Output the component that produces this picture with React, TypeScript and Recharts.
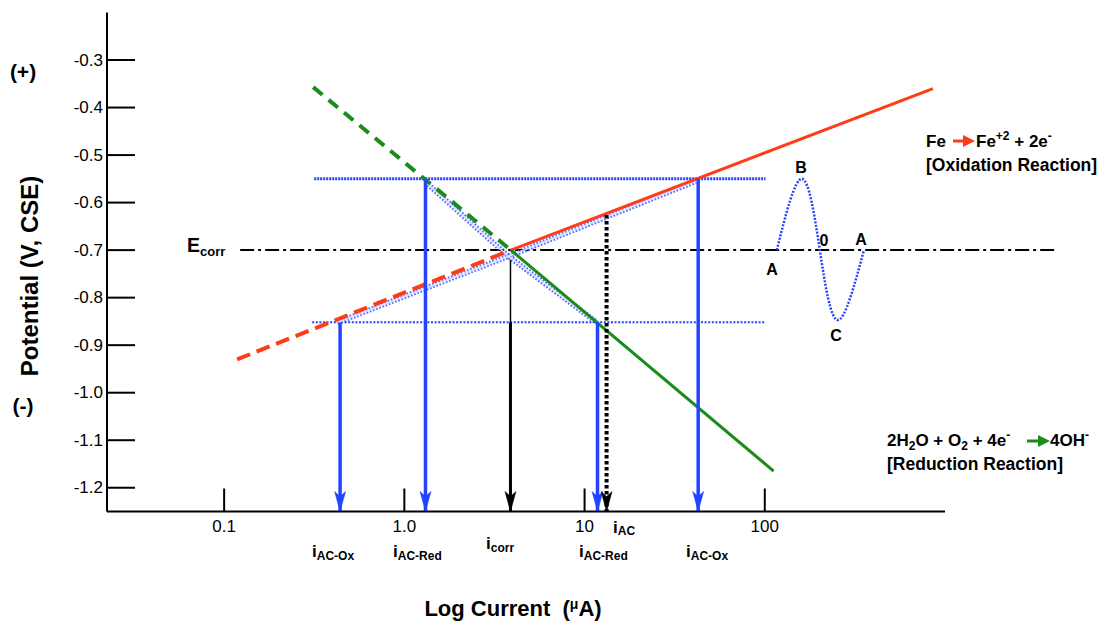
import React from 'react';
import { LineChart, Line, XAxis, YAxis, ReferenceLine } from 'recharts';

const FONT = '"Liberation Sans", Arial, Helvetica, sans-serif';

// axis ticks
const xTicks = [0.1, 1, 10, 100];
const xTickLabels = ['0.1', '1.0', '10', '100'];
const yTicks = [-1.2, -1.1, -1.0, -0.9, -0.8, -0.7, -0.6, -0.5, -0.4, -0.3];
const xDomain = [0.02239, 1000];
const yDomain = [-1.25, -0.2];

// corrosion potential
const ECORR = -0.7;
const ecorrSpan = [0.1227, 4034];

// Tafel lines (current uA, potential V)
const oxidationDashed = [{ x: 0.118, y: -0.93 }, { x: 3.9, y: -0.7 }];
const oxidationSolid = [{ x: 3.9, y: -0.7 }, { x: 857, y: -0.36 }];
const reductionDashed = [{ x: 0.312, y: -0.357 }, { x: 3.9, y: -0.7 }];
const reductionSolid = [{ x: 3.9, y: -0.7 }, { x: 112, y: -1.165 }];

// AC potential limits
const acHigh = [{ x: 0.316, y: -0.55 }, { x: 101, y: -0.55 }];
const acLow = [{ x: 0.308, y: -0.852 }, { x: 101, y: -0.852 }];

// AC polarized curves
const acOxCurve = [{ x: 0.425, y: -0.852 }, { x: 3.78, y: -0.713 }, { x: 41.4, y: -0.555 }];
const acRedCurve = [{ x: 1.31, y: -0.557 }, { x: 3.78, y: -0.713 }, { x: 11.67, y: -0.852 }];

// AC wave sketch points A, B, 0, C, A
const acWave = [
  { x: 116.6, y: -0.7 },
  { x: 160.5, y: -0.55 },
  { x: 202, y: -0.7 },
  { x: 254.5, y: -0.847 },
  { x: 354.8, y: -0.7 },
];

// arrows down to the axis
const AXIS_BOTTOM = -1.25;
const blueArrowX = [0.44, 1.31, 11.8, 42.7];
const blueArrowFrom = [-0.852, -0.55, -0.852, -0.55];
const icorrX = 3.88;
const icorrFrom = [-0.72, -0.852];
const iacX = 13.25;
const iacFrom = -0.626;

const BLUE = '#2443ff';
const RED = '#ff3c17';
const GREEN = '#1b8c1b';

const YTick = (props: any) => {
  const { x, y, payload } = props;
  return (
    <g>
      <line x1={x} y1={y} x2={x + 28} y2={y} stroke="#000" strokeWidth={2} />
      <text x={x - 4} y={y} textAnchor="end" dominantBaseline="central" fontSize={17} fontFamily={FONT} fill="#000">
        {Number(payload.value).toFixed(1)}
      </text>
    </g>
  );
};

const XTick = (props: any) => {
  const { x, y, payload } = props;
  const i = xTicks.indexOf(payload.value);
  return (
    <g>
      <line x1={x} y1={y} x2={x} y2={y - 23} stroke="#000" strokeWidth={2} />
      <text x={x} y={y + 20} textAnchor="middle" fontSize={17} fontFamily={FONT} fill="#000">
        {i >= 0 ? xTickLabels[i] : String(payload.value)}
      </text>
    </g>
  );
};

const arrowDot = (color: string) => (props: any) => {
  const { cx, cy, index } = props;
  if (index !== 1 || cx == null || cy == null) return <g key={`d${index}`} />;
  return (
    <path
      key={`d${index}`}
      d={`M${cx},${cy} L${cx - 5.5},${cy - 20} L${cx},${cy - 15} L${cx + 5.5},${cy - 20} Z`}
      fill={color}
      stroke={color}
      strokeWidth={0.5}
    />
  );
};

const seg = (x: number, from: number) => [{ x, y: from }, { x, y: AXIS_BOTTOM }];

const Sub = ({ x, y, main, sub, dy = 3 }: any) => (
  <text x={x} y={y} fontFamily={FONT} fontWeight="bold" fill="#000" fontSize={17}>
    {main}
    <tspan fontSize={12} dy={dy}>{sub}</tspan>
  </text>
);

const Overlay = () => (
  <svg
    width={1102}
    height={621}
    style={{ position: 'absolute', left: 0, top: 0, pointerEvents: 'none', overflow: 'visible' }}
  >
    <g fontFamily={FONT} fontWeight="bold" fill="#000">
      <text x={23} y={79} fontSize={21} textAnchor="middle">(+)</text>
      <text x={23} y={413} fontSize={21} textAnchor="middle">(-)</text>
      <text x={29} y={276} fontSize={24} textAnchor="middle" dominantBaseline="central" transform="rotate(-90 29 276)">
        Potential (V, CSE)
      </text>
      <text x={513} y={616} fontSize={22} textAnchor="middle">
        {'Log Current \u00a0('}<tspan fontSize={14} dy={-7}>μ</tspan><tspan dy={7}>A)</tspan>
      </text>
      <text x={187} y={252} fontSize={19.5}>
        E<tspan fontSize={13} dy={4}>corr</tspan>
      </text>

      <Sub x={312} y={557} main="i" sub="AC-Ox" />
      <Sub x={393} y={557} main="i" sub="AC-Red" />
      <Sub x={486} y={549} main="i" sub="corr" />
      <Sub x={613} y={533} main="i" sub="AC" dy={2} />
      <Sub x={579} y={557} main="i" sub="AC-Red" />
      <Sub x={686} y={557} main="i" sub="AC-Ox" />

      <text x={772} y={275} fontSize={16} textAnchor="middle">A</text>
      <text x={801} y={173} fontSize={16} textAnchor="middle">B</text>
      <text x={824} y={246} fontSize={16} textAnchor="middle">0</text>
      <text x={861} y={245} fontSize={16} textAnchor="middle">A</text>
      <text x={836} y={341} fontSize={16} textAnchor="middle">C</text>

      <text x={926} y={147} fontSize={17}>Fe</text>
      <text x={976} y={147} fontSize={17}>
        Fe<tspan fontSize={12} dy={-7}>+2</tspan><tspan dy={7}> + 2e</tspan><tspan fontSize={12} dy={-7}>-</tspan>
      </text>
      <text x={926} y={171} fontSize={17.5}>[Oxidation Reaction]</text>

      <text x={887} y={446} fontSize={17}>
        2H<tspan fontSize={12} dy={4}>2</tspan><tspan dy={-4}>O + O</tspan><tspan fontSize={12} dy={4}>2</tspan><tspan dy={-4}> + 4e</tspan><tspan fontSize={12} dy={-7}>-</tspan>
      </text>
      <text x={1050} y={446} fontSize={17}>
        4OH<tspan fontSize={12} dy={-7}>-</tspan>
      </text>
      <text x={887} y={470} fontSize={17.5}>[Reduction Reaction]</text>
    </g>
    <line x1={953} y1={141} x2={966} y2={141} stroke={RED} strokeWidth={3} />
    <polygon points="963,135 975,141 963,147" fill={RED} />
    <line x1={1027} y1={441} x2={1040} y2={441} stroke={GREEN} strokeWidth={3} />
    <polygon points="1038,435 1050,441 1038,447" fill={GREEN} />
  </svg>
);

export default function App() {
  return (
    <div style={{ position: 'relative', width: 1102, height: 621, overflow: 'hidden' }}>
      <style>{'html,body{margin:0;padding:0;}'}</style>
      <LineChart width={1102} height={621} margin={{ top: 12.5, right: 157, bottom: 79.5, left: 47 }}>
        <XAxis
          type="number"
          dataKey="x"
          scale="log"
          domain={xDomain}
          allowDataOverflow
          ticks={xTicks}
          tick={<XTick />}
          tickLine={false}
          tickSize={0}
          tickMargin={0}
          height={30}
          axisLine={{ stroke: '#000', strokeWidth: 2 }}
        />
        <YAxis
          type="number"
          dataKey="y"
          domain={yDomain}
          allowDataOverflow
          ticks={yTicks}
          tick={<YTick />}
          tickLine={false}
          tickSize={0}
          tickMargin={0}
          width={60}
          axisLine={{ stroke: '#000', strokeWidth: 2 }}
        />
        <ReferenceLine
          segment={[{ x: ecorrSpan[0], y: ECORR }, { x: ecorrSpan[1], y: ECORR }]}
          stroke="#000"
          strokeWidth={2}
          strokeDasharray="14 4 3 4"
          ifOverflow="visible"
        />
        <Line data={acHigh} dataKey="y" stroke={BLUE} strokeWidth={3} strokeDasharray="2 1" dot={false} isAnimationActive={false} />
        <Line data={acLow} dataKey="y" stroke={BLUE} strokeWidth={2} strokeDasharray="2 1.6" dot={false} isAnimationActive={false} />
        {[acOxCurve, acRedCurve].map((d, i) => (
          <Line key={`c${i}`} data={d} dataKey="y" stroke="#3550ff" strokeOpacity={0.8} strokeWidth={5.5} strokeDasharray="1.8 1.6" dot={false} isAnimationActive={false} />
        ))}
        {[acOxCurve, acRedCurve].map((d, i) => (
          <Line key={`w${i}`} data={d} dataKey="y" stroke="#dfe4ff" strokeOpacity={0.9} strokeWidth={1.8} dot={false} isAnimationActive={false} />
        ))}
        <Line data={acWave} dataKey="y" type="natural" stroke={BLUE} strokeWidth={2.5} strokeDasharray="2 1.5" dot={false} isAnimationActive={false} />
        <Line data={oxidationDashed} dataKey="y" stroke={RED} strokeWidth={4} strokeDasharray="14 7" dot={false} isAnimationActive={false} />
        <Line data={oxidationSolid} dataKey="y" stroke={RED} strokeWidth={3} dot={false} isAnimationActive={false} />
        <Line data={reductionDashed} dataKey="y" stroke={GREEN} strokeWidth={4} strokeDasharray="12 8" dot={false} isAnimationActive={false} />
        <Line data={reductionSolid} dataKey="y" stroke={GREEN} strokeWidth={3} dot={false} isAnimationActive={false} />
        {blueArrowX.map((x, i) => (
          <Line key={`b${i}`} data={seg(x, blueArrowFrom[i])} dataKey="y" stroke={BLUE} strokeWidth={3.5} dot={arrowDot(BLUE)} isAnimationActive={false} />
        ))}
        <Line data={[{ x: icorrX, y: icorrFrom[0] }, { x: icorrX, y: icorrFrom[1] }]} dataKey="y" stroke="#000" strokeWidth={1.5} dot={false} isAnimationActive={false} />
        <Line data={seg(icorrX, icorrFrom[1])} dataKey="y" stroke="#000" strokeWidth={3} dot={arrowDot('#000')} isAnimationActive={false} />
        <Line data={seg(iacX, iacFrom)} dataKey="y" stroke="#000" strokeWidth={4} strokeDasharray="3.5 2.5" dot={arrowDot('#000')} isAnimationActive={false} />
      </LineChart>
      <Overlay />
    </div>
  );
}
